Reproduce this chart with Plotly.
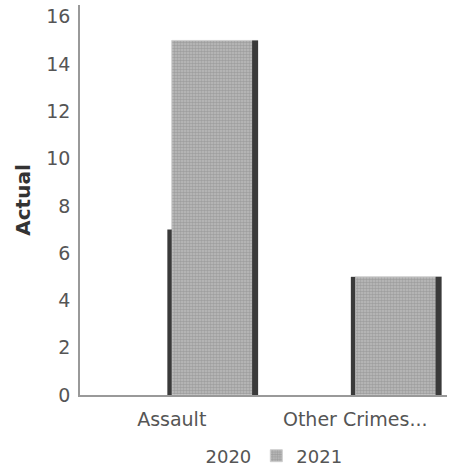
import plotly.graph_objects as go

# Data
categories = ["Assault", "Other Crimes..."]
years = ["2020", "2021"]
values_2020 = [7, 5]
values_2021 = [15, 5]
y_ticks = [0, 2, 4, 6, 8, 10, 12, 14, 16]

# Bar geometry in category units
BAR_W = 0.47
EDGE_2020_W = 0.024
EDGE_2021_W = 0.032

FONT = "DejaVu Sans"
TEXT_GREY = "#555555"
AXIS_GREY = "#999999"
EDGE_DARK = "#3a3a3a"

fig = go.Figure()

# 2020 series: white bars
fig.add_trace(go.Bar(
    name=years[0], x=categories, y=values_2020,
    offset=-BAR_W, width=BAR_W,
    marker=dict(color="white", line=dict(width=0)),
))
# 2021 series: grainy grey bars
fig.add_trace(go.Bar(
    name=years[1], x=categories, y=values_2021,
    offset=0, width=BAR_W,
    marker=dict(
        color="#a8a8a8",
        line=dict(width=1, color="#cfcfcf"),
        pattern=dict(shape=".", fgcolor="#828282", bgcolor="#bcbcbc",
                     size=3, solidity=0.55),
    ),
))
# shaded right-hand sides of the bars
fig.add_trace(go.Bar(
    x=categories, y=values_2020, offset=-EDGE_2020_W, width=EDGE_2020_W,
    marker=dict(color=EDGE_DARK, line=dict(width=0)),
    showlegend=False, hoverinfo="skip",
))
fig.add_trace(go.Bar(
    x=categories, y=values_2021, offset=BAR_W - EDGE_2021_W, width=EDGE_2021_W,
    marker=dict(color=EDGE_DARK, line=dict(width=0)),
    showlegend=False, hoverinfo="skip",
))

fig.update_layout(
    width=450, height=472,
    margin=dict(l=80, r=3, t=5, b=77),
    paper_bgcolor="white", plot_bgcolor="white",
    barmode="overlay",
    font=dict(family=FONT, color=TEXT_GREY, size=19),
    showlegend=True,
    legend=dict(
        orientation="h",
        xref="container", yref="container",
        x=0.57, xanchor="center",
        y=(472 - 456) / 472, yanchor="middle",
        font=dict(family=FONT, size=18, color=TEXT_GREY),
        itemclick=False,
    ),
    xaxis=dict(
        type="category", range=[-0.5, 1.5],
        showline=True, linecolor=AXIS_GREY, linewidth=1.5,
        showgrid=False, ticks="", ticklabelstandoff=6,
        tickfont=dict(family=FONT, size=19, color=TEXT_GREY),
    ),
    yaxis=dict(
        range=[0, 16.5], tickvals=y_ticks,
        showline=True, linecolor=AXIS_GREY, linewidth=1.5,
        showgrid=False, zeroline=False, ticks="", ticklabelstandoff=4,
        tickfont=dict(family=FONT, size=19, color=TEXT_GREY),
        title=dict(text="<b>Actual</b>", standoff=10,
                   font=dict(family=FONT, size=20, color="#333333")),
    ),
)

fig.write_html("out.html")
